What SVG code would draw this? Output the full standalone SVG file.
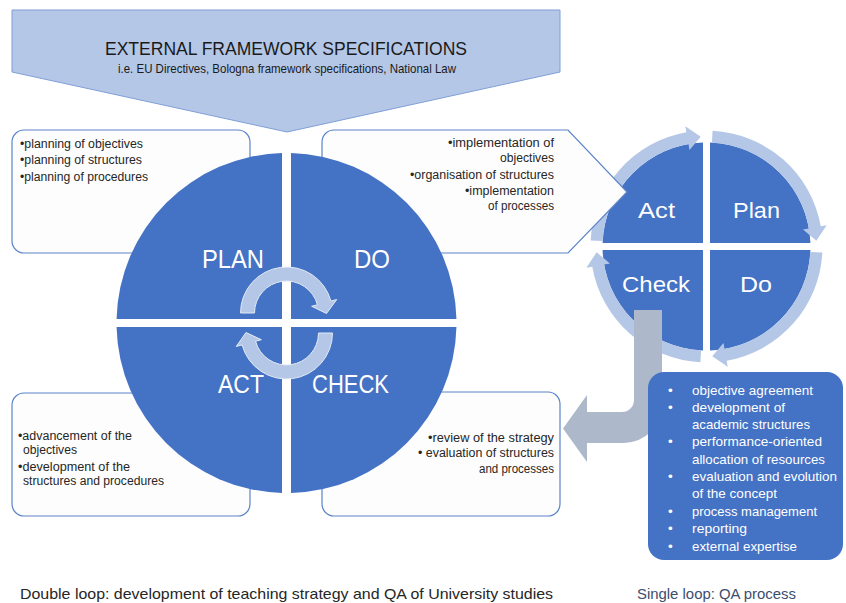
<svg xmlns="http://www.w3.org/2000/svg" width="846" height="603" viewBox="0 0 846 603">
<style>
text{font-family:"Liberation Sans",Arial,sans-serif}
.box{fill:#fdfdfd;stroke:#5b83c9;stroke-width:1.2}
.q{fill:#4472c4}
.ring{fill:#b4c7e7}
.carr{fill:#b4c7e7;stroke:#e3eaf5;stroke-width:1}
.bt{font-size:12.5px;fill:#262626}
.big{font-size:25px;fill:#ffffff}
.sm{font-size:22px;fill:#ffffff}
.wt{font-size:13.5px;fill:#ffffff}
</style>
<rect width="846" height="603" fill="#ffffff"/>

<g id="banner">
<path d="M12,10 H560 V72 L287,132 L12,72 Z" fill="#b4c7e7" stroke="#7f9fd6" stroke-width="1"/>
<text x="105" y="55" font-size="19" fill="#1a1a1a" textLength="362" lengthAdjust="spacingAndGlyphs">EXTERNAL FRAMEWORK SPECIFICATIONS</text>
<text x="118" y="73" font-size="13" fill="#1a1a1a" textLength="338" lengthAdjust="spacingAndGlyphs">i.e. EU Directives, Bologna framework specifications, National Law</text>
</g>

<g id="single-loop">
<path class="q" d="M703,243 V142.56 A104,104 0 0 0 602.56,243 Z"/>
<path class="q" d="M710,243 H810.44 A104,104 0 0 0 710,142.56 Z"/>
<path class="q" d="M703,250 H602.56 A104,104 0 0 0 703,350.44 Z"/>
<path class="q" d="M710,250 V350.44 A104,104 0 0 0 810.44,250 Z"/>
<path class="ring" d="M590.66,240.43 A116,116 0 0 1 686.36,132.26 L685.31,126.35 L700.74,136.65 L689.48,149.99 L688.44,144.08 A104,104 0 0 0 602.64,241.06 Z"/>
<path class="ring" d="M712.57,130.66 A116,116 0 0 1 820.74,226.36 L826.65,225.31 L816.35,240.74 L803.01,229.48 L808.92,228.44 A104,104 0 0 0 711.94,142.64 Z"/>
<path class="ring" d="M822.34,252.57 A116,116 0 0 1 726.64,360.74 L727.69,366.65 L712.26,356.35 L723.52,343.01 L724.56,348.92 A104,104 0 0 0 810.36,251.94 Z"/>
<path class="ring" d="M700.43,362.34 A116,116 0 0 1 592.26,266.64 L586.35,267.69 L596.65,252.26 L609.99,263.52 L604.08,264.56 A104,104 0 0 0 701.06,350.36 Z"/>
<text class="sm" x="638" y="218" textLength="37" lengthAdjust="spacingAndGlyphs">Act</text>
<text class="sm" x="733" y="218" textLength="47" lengthAdjust="spacingAndGlyphs">Plan</text>
<text class="sm" x="622" y="292" textLength="68" lengthAdjust="spacingAndGlyphs">Check</text>
<text class="sm" x="740" y="292" textLength="32" lengthAdjust="spacingAndGlyphs">Do</text>
</g>

<g id="connectors">
<path d="M634,310 H662 V405 A38,38 0 0 1 624,443 H587 V462 L563,428.5 L587,395 V412 H622 A12,12 0 0 0 634,400 Z" fill="#adb9ca"/>
</g>

<g id="qa-tasks">
<rect x="648" y="372" width="195" height="188" rx="16" fill="#4472c4"/>
<g class="wt">
<text x="668" y="395">•</text><text x="692" y="395" textLength="121" lengthAdjust="spacingAndGlyphs">objective agreement</text>
<text x="668" y="412">•</text><text x="692" y="412" textLength="93" lengthAdjust="spacingAndGlyphs">development of</text>
<text x="692" y="429" textLength="118" lengthAdjust="spacingAndGlyphs">academic structures</text>
<text x="668" y="446">•</text><text x="692" y="446" textLength="130" lengthAdjust="spacingAndGlyphs">performance-oriented</text>
<text x="692" y="464" textLength="133" lengthAdjust="spacingAndGlyphs">allocation of resources</text>
<text x="668" y="481">•</text><text x="692" y="481" textLength="145" lengthAdjust="spacingAndGlyphs">evaluation and evolution</text>
<text x="692" y="498" textLength="85" lengthAdjust="spacingAndGlyphs">of the concept</text>
<text x="668" y="516">•</text><text x="692" y="516" textLength="125" lengthAdjust="spacingAndGlyphs">process management</text>
<text x="668" y="533">•</text><text x="692" y="533" textLength="55" lengthAdjust="spacingAndGlyphs">reporting</text>
<text x="668" y="551">•</text><text x="692" y="551" textLength="105" lengthAdjust="spacingAndGlyphs">external expertise</text>
</g>
</g>

<g id="plan-box">
<rect class="box" x="12" y="130" width="238" height="123" rx="12"/>
<text class="bt" x="20" y="148" textLength="123" lengthAdjust="spacingAndGlyphs">•planning of objectives</text>
<text class="bt" x="20" y="164" textLength="122" lengthAdjust="spacingAndGlyphs">•planning of structures</text>
<text class="bt" x="20" y="181" textLength="128" lengthAdjust="spacingAndGlyphs">•planning of procedures</text>
</g>

<g id="do-box">
<path class="box" d="M334,130 H568 L627,192 L568,253 H334 A12,12 0 0 1 322,241 V142 A12,12 0 0 1 334,130 Z"/>
<text class="bt" x="448" y="147" textLength="106" lengthAdjust="spacingAndGlyphs">•implementation of</text>
<text class="bt" x="500" y="162" textLength="54" lengthAdjust="spacingAndGlyphs">objectives</text>
<text class="bt" x="410" y="179" textLength="144" lengthAdjust="spacingAndGlyphs">•organisation of structures</text>
<text class="bt" x="465" y="195" textLength="89" lengthAdjust="spacingAndGlyphs">•implementation</text>
<text class="bt" x="488" y="210" textLength="66" lengthAdjust="spacingAndGlyphs">of processes</text>
</g>

<g id="act-box">
<rect class="box" x="12" y="393" width="238" height="123" rx="12"/>
<text class="bt" x="18" y="440" textLength="114" lengthAdjust="spacingAndGlyphs">•advancement of the</text>
<text class="bt" x="23" y="454" textLength="54" lengthAdjust="spacingAndGlyphs">objectives</text>
<text class="bt" x="18" y="471" textLength="112" lengthAdjust="spacingAndGlyphs">•development of the</text>
<text class="bt" x="23" y="485" textLength="141" lengthAdjust="spacingAndGlyphs">structures and procedures</text>
</g>

<g id="check-box">
<rect class="box" x="322" y="392" width="238" height="124" rx="12"/>
<text class="bt" x="428" y="442" textLength="126" lengthAdjust="spacingAndGlyphs">•review of the strategy</text>
<text class="bt" x="418" y="457" textLength="136" lengthAdjust="spacingAndGlyphs">• evaluation of structures</text>
<text class="bt" x="479" y="473" textLength="75" lengthAdjust="spacingAndGlyphs">and processes</text>
</g>

<g id="double-loop">
<path class="q" d="M282,319 V153.06 A170,170 0 0 0 116.55,319 Z"/>
<path class="q" d="M291,319 H456.45 A170,170 0 0 0 291,153.06 Z"/>
<path class="q" d="M282,327 H116.55 A170,170 0 0 0 282,492.94 Z"/>
<path class="q" d="M291,327 V492.94 A170,170 0 0 0 456.45,327 Z"/>
<path class="carr" d="M240.5,313 A46,46 0 0 1 330.93,301.09 L336.73,299.54 L326.5,313.5 L311.61,306.27 L317.41,304.72 A32,32 0 0 0 254.5,313 Z"/>
<path class="carr" d="M332.5,333 A46,46 0 0 1 242.07,344.91 L236.27,346.46 L246,332.5 L261.39,339.73 L255.59,341.28 A32,32 0 0 0 318.5,333 Z"/>
<text class="big" x="202" y="268" textLength="62" lengthAdjust="spacingAndGlyphs">PLAN</text>
<text class="big" x="354" y="268" textLength="36" lengthAdjust="spacingAndGlyphs">DO</text>
<text class="big" x="218" y="393" textLength="46" lengthAdjust="spacingAndGlyphs">ACT</text>
<text class="big" x="312" y="393" textLength="77" lengthAdjust="spacingAndGlyphs">CHECK</text>
</g>

<g id="captions">
<text x="20" y="599" font-size="14.5" fill="#262626" textLength="533" lengthAdjust="spacingAndGlyphs">Double loop: development of teaching strategy and QA of University studies</text>
<text x="637" y="599" font-size="14.5" fill="#3b4e6e" textLength="159" lengthAdjust="spacingAndGlyphs">Single loop: QA process</text>
</g>
</svg>
